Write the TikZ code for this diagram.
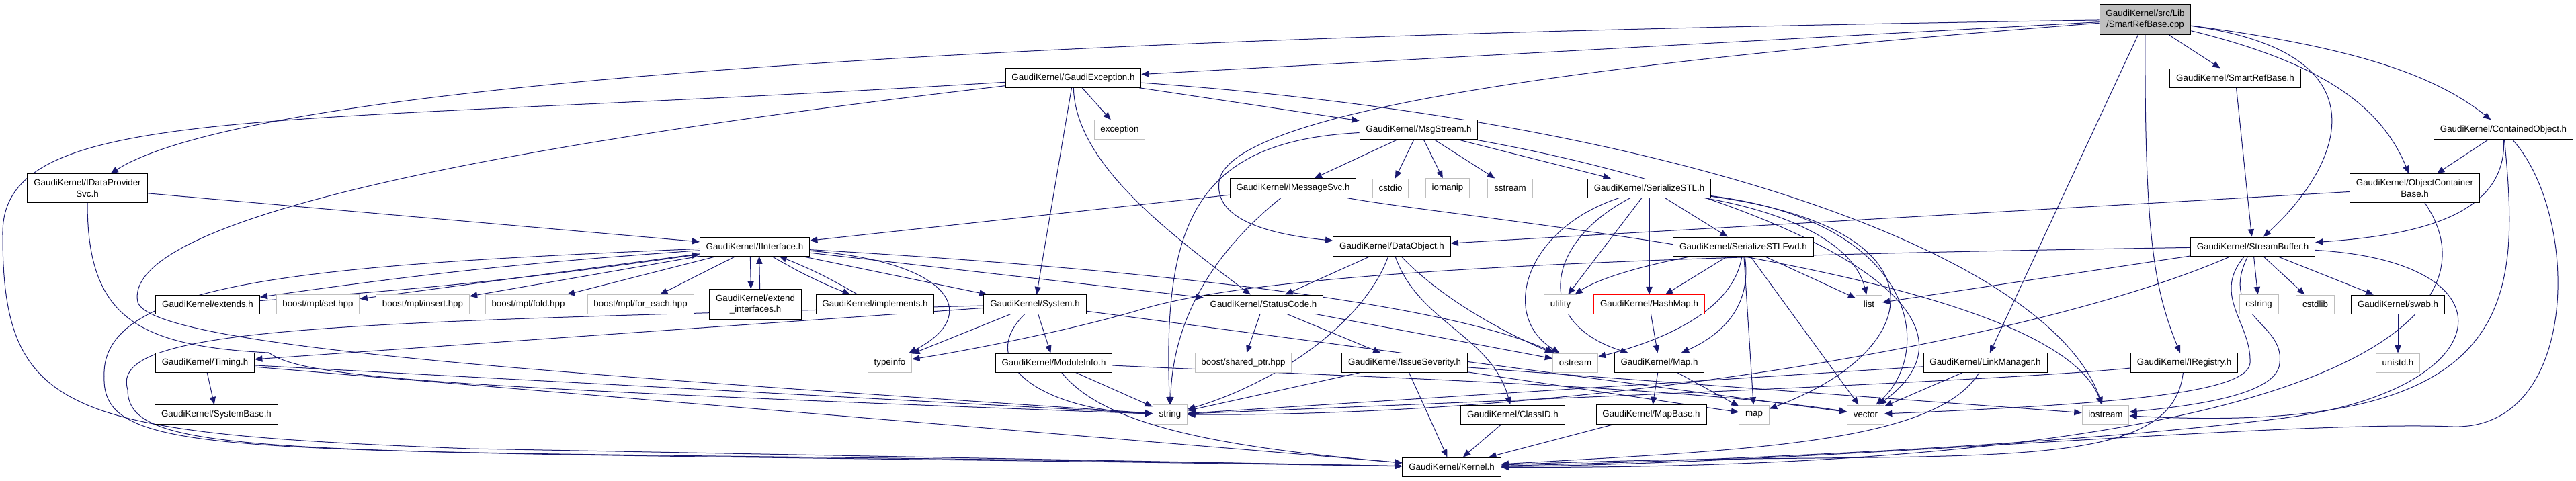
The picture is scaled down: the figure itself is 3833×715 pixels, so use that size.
\documentclass[tikz,border=0pt]{standalone}
\usepackage{fontspec}
\setmainfont{Liberation Sans}
\usetikzlibrary{arrows.meta,backgrounds}
\definecolor{edgeblue}{HTML}{191970}
\definecolor{stdgray}{HTML}{BFBFBF}
\begin{document}
\begin{tikzpicture}[x=0.75pt, y=-0.75pt,
        filebox/.style={rectangle, draw=black, fill=white, line width=0.75pt, inner xsep=7pt, inner ysep=6pt, minimum height=21pt, minimum width=29pt, align=center, font=\fontsize{10}{12.5}\selectfont},
        stdbox/.style={filebox, draw=stdgray},
        redbox/.style={filebox, draw=red},
        rootbox/.style={filebox, fill=stdgray},
        dep/.style={-{Triangle[length=8.5pt, width=7pt]}, draw=edgeblue, line width=0.75pt}]
        \useasboundingbox (0,0) rectangle (3833,715);
        \node [rootbox] (root) at (3192,29) {GaudiKernel/src/Lib\\/SmartRefBase.cpp};
        \node [filebox] (gexc) at (1597,116) {GaudiKernel/GaudiException.h};
        \node [filebox] (srbh) at (3326,116) {GaudiKernel/SmartRefBase.h};
        \node [filebox] (idp) at (130,280) {GaudiKernel/IDataProvider\\Svc.h};
        \node [filebox] (msg) at (2111,193) {GaudiKernel/MsgStream.h};
        \node [stdbox] (exc) at (1666,193) {exception};
        \node [filebox] (cobj) at (3725,193) {GaudiKernel/ContainedObject.h};
        \node [filebox] (imsg) at (1924,280) {GaudiKernel/IMessageSvc.h};
        \node [stdbox] (cstdio) at (2069,280) {cstdio};
        \node [stdbox] (iomanip) at (2154,280) {iomanip};
        \node [stdbox] (sstream) at (2247,280) {sstream};
        \node [filebox] (sstl) at (2454,280) {GaudiKernel/SerializeSTL.h};
        \node [filebox] (ocb) at (3593,280) {GaudiKernel/ObjectContainer\\Base.h};
        \node [filebox] (iint) at (1123,367) {GaudiKernel/IInterface.h};
        \node [filebox] (dobj) at (2071,367) {GaudiKernel/DataObject.h};
        \node [filebox] (fwd) at (2594,367) {GaudiKernel/SerializeSTLFwd.h};
        \node [filebox] (sbuf) at (3352,367) {GaudiKernel/StreamBuffer.h};
        \node [filebox] (extends) at (309,453) {GaudiKernel/extends.h};
        \node [stdbox] (mplset) at (473,453) {boost/mpl/set.hpp};
        \node [stdbox] (mplinsert) at (629,453) {boost/mpl/insert.hpp};
        \node [stdbox] (mplfold) at (786,453) {boost/mpl/fold.hpp};
        \node [stdbox] (mplforeach) at (953,453) {boost/mpl/for\_each.hpp};
        \node [filebox] (extif) at (1124,453) {GaudiKernel/extend\\\_interfaces.h};
        \node [filebox] (impl) at (1302,453) {GaudiKernel/implements.h};
        \node [filebox] (system) at (1540,453) {GaudiKernel/System.h};
        \node [filebox] (scode) at (1880,453) {GaudiKernel/StatusCode.h};
        \node [stdbox] (utility) at (2322,453) {utility};
        \node [redbox] (hashmap) at (2454,453) {GaudiKernel/HashMap.h};
        \node [stdbox] (list) at (2781,453) {list};
        \node [stdbox] (cstring) at (3361,453) {cstring};
        \node [stdbox] (cstdlib) at (3445,453) {cstdlib};
        \node [filebox] (swab) at (3568,453) {GaudiKernel/swab.h};
        \node [filebox] (timing) at (305,540) {GaudiKernel/Timing.h};
        \node [stdbox] (typeinfo) at (1324,540) {typeinfo};
        \node [filebox] (modinfo) at (1568,540) {GaudiKernel/ModuleInfo.h};
        \node [stdbox] (sharedptr) at (1850,540) {boost/shared\_ptr.hpp};
        \node [filebox] (issue) at (2090,540) {GaudiKernel/IssueSeverity.h};
        \node [stdbox] (ostream) at (2344,540) {ostream};
        \node [filebox] (maph) at (2469,540) {GaudiKernel/Map.h};
        \node [filebox] (linkm) at (2954,540) {GaudiKernel/LinkManager.h};
        \node [filebox] (ireg) at (3250,540) {GaudiKernel/IRegistry.h};
        \node [stdbox] (unistd) at (3568,540) {unistd.h};
        \node [filebox] (sysbase) at (322,617) {GaudiKernel/SystemBase.h};
        \node [stdbox] (string) at (1741,617) {string};
        \node [filebox] (classid) at (2251,617) {GaudiKernel/ClassID.h};
        \node [filebox] (mapbase) at (2457,617) {GaudiKernel/MapBase.h};
        \node [stdbox] (map) at (2610,617) {map};
        \node [stdbox] (vector) at (2776,617) {vector};
        \node [stdbox] (iostream) at (3133,617) {iostream};
        \node [filebox] (kernel) at (2160,695) {GaudiKernel/Kernel.h};
        \begin{scope}[on background layer]
        \draw [dep] (root) -- (gexc);
        \draw [dep] (root) .. controls (1700,50) and (400,110) .. (idp);
        \draw [dep] (root) .. controls (2400,90) and (1850,160) .. (1815,265) .. controls (1800,330) and (1900,350) .. (dobj);
        \draw [dep] (root) -- (srbh);
        \draw [dep] (root) -- (linkm);
        \draw [dep] (root) .. controls (3191,350) and (3205,430) .. (ireg);
        \draw [dep] (root) .. controls (3560,80) and (3480,250) .. (sbuf);
        \draw [dep] (root) .. controls (3440,90) and (3540,150) .. (ocb);
        \draw [dep] (root) .. controls (3500,70) and (3620,110) .. (cobj);
        \draw [dep] (srbh) -- (sbuf);
        \draw [dep] (gexc) .. controls (400,190) and (0,150) .. (4,350) .. controls (4,620) and (100,645) .. (700,668) -- (kernel);
        \draw [dep] (gexc) .. controls (700,220) and (180,330) .. (205,450) .. controls (230,520) and (900,560) .. (string);
        \draw [dep] (gexc) -- (system);
        \draw [dep] (gexc) .. controls (1600,240) and (1730,340) .. (scode);
        \draw [dep] (gexc) -- (exc);
        \draw [dep] (gexc) -- (msg);
        \draw [dep] (gexc) .. controls (2500,180) and (3050,380) .. (iostream);
        \draw [dep] (idp) -- (iint);
        \draw [dep] (idp) .. controls (130,470) and (200,515) .. (400,525) .. controls (450,560) and (600,575) .. (string);
        \draw [dep] (msg) -- (imsg);
        \draw [dep] (msg) -- (cstdio);
        \draw [dep] (msg) -- (iomanip);
        \draw [dep] (msg) -- (sstream);
        \draw [dep] (msg) -- (sstl);
        \draw [dep] (msg) .. controls (1780,210) and (1730,330) .. (string);
        \draw [dep] (msg) .. controls (2600,280) and (3000,450) .. (vector);
        \draw [dep] (imsg) -- (iint);
        \draw [dep] (imsg) .. controls (1800,380) and (1745,480) .. (string);
        \draw [dep] (imsg) .. controls (2200,330) and (3050,400) .. (iostream);
        \draw [dep] (sstl) -- (fwd);
        \draw [dep] (sstl) -- (hashmap);
        \draw [dep] (sstl) -- (utility);
        \draw [dep] (sstl) .. controls (2270,340) and (2230,470) .. (ostream);
        \draw [dep] (sstl) .. controls (2300,360) and (2280,480) .. (maph);
        \draw [dep] (sstl) .. controls (2680,320) and (2760,370) .. (list);
        \draw [dep] (sstl) .. controls (2850,330) and (2880,520) .. (vector);
        \draw [dep] (sstl) .. controls (2900,340) and (2870,520) .. (map);
        \draw [dep] (fwd) .. controls (2420,400) and (2370,420) .. (utility);
        \draw [dep] (fwd) -- (hashmap);
        \draw [dep] (fwd) .. controls (2580,460) and (2480,505) .. (ostream);
        \draw [dep] (fwd) .. controls (2605,440) and (2580,490) .. (maph);
        \draw [dep] (fwd) -- (map);
        \draw [dep] (fwd) -- (vector);
        \draw [dep] (fwd) -- (list);
        \draw [dep] (hashmap) -- (maph);
        \draw [dep] (maph) -- (mapbase);
        \draw [dep] (maph) -- (map);
        \draw [dep] (mapbase) -- (kernel);
        \draw [dep] (classid) -- (kernel);
        \draw [dep] (dobj) -- (scode);
        \draw [dep] (dobj) .. controls (2030,480) and (1900,570) .. (string);
        \draw [dep] (dobj) .. controls (2110,480) and (2220,500) .. (classid);
        \draw [dep] (dobj) .. controls (2150,450) and (2250,500) .. (ostream);
        \draw [dep] (ocb) -- (dobj);
        \draw [dep] (ocb) .. controls (3730,480) and (3450,700) .. (kernel);
        \draw [dep] (cobj) -- (ocb);
        \draw [dep] (cobj) .. controls (3730,320) and (3600,350) .. (sbuf);
        \draw [dep] (cobj) .. controls (3750,450) and (3750,650) .. (iostream);
        \draw [dep] (cobj) .. controls (3840,320) and (3840,640) .. (3650,635) .. controls (3400,625) and (2700,690) .. (kernel);
        \draw [dep] (sbuf) .. controls (2500,380) and (1900,400) .. (1700,460) .. controls (1600,490) and (1450,520) .. (typeinfo);
        \draw [dep] (sbuf) -- (list);
        \draw [dep] (sbuf) .. controls (3050,500) and (2400,620) .. (string);
        \draw [dep] (sbuf) .. controls (3290,440) and (3350,480) .. (3348,540) .. controls (3345,580) and (3200,600) .. (vector);
        \draw [dep] (sbuf) .. controls (3300,470) and (3400,480) .. (3392,540) .. controls (3390,590) and (3250,605) .. (iostream);
        \draw [dep] (sbuf) -- (cstring);
        \draw [dep] (sbuf) -- (cstdlib);
        \draw [dep] (sbuf) -- (swab);
        \draw [dep] (sbuf) .. controls (3750,390) and (3720,580) .. (3400,622) .. controls (3100,660) and (2600,685) .. (kernel);
        \draw [dep] (swab) -- (unistd);
        \draw [dep] (linkm) -- (string);
        \draw [dep] (linkm) -- (vector);
        \draw [dep] (linkm) .. controls (2880,660) and (2600,670) .. (kernel);
        \draw [dep] (ireg) .. controls (3000,565) and (2400,590) .. (string);
        \draw [dep] (ireg) .. controls (3230,720) and (2900,665) .. (kernel);
        \draw [dep] (iint) .. controls (450,395) and (150,420) .. (155,560) .. controls (150,700) and (400,662) .. (kernel);
        \draw [dep] (iint) to [bend right=2] (extends);
        \draw [dep] (extends) to [bend right=2] (iint);
        \draw [dep] (iint) -- (mplset);
        \draw [dep] (iint) -- (mplinsert);
        \draw [dep] (iint) -- (mplfold);
        \draw [dep] (iint) -- (mplforeach);
        \draw [dep] ([xshift=-5pt]iint.south) -- ([xshift=-5pt]extif.north);
        \draw [dep] ([xshift=5pt]extif.north) -- ([xshift=5pt]iint.south);
        \draw [dep] (iint) to [bend right=4] (impl);
        \draw [dep] (impl) to [bend right=4] (iint);
        \draw [dep] (iint) -- (system);
        \draw [dep] (iint) -- (scode);
        \draw [dep] (iint) .. controls (1420,390) and (1460,470) .. (typeinfo);
        \draw [dep] (iint) .. controls (1700,400) and (2150,450) .. (ostream);
        \draw [dep] (system) -- (timing);
        \draw [dep] (system) -- (typeinfo);
        \draw [dep] (system) .. controls (500,480) and (160,485) .. (190,580) .. controls (190,690) and (450,668) .. (kernel);
        \draw [dep] (system) -- (modinfo);
        \draw [dep] (system) .. controls (1450,540) and (1550,610) .. (string);
        \draw [dep] (system) -- (vector);
        \draw [dep] (scode) -- (sharedptr);
        \draw [dep] (scode) -- (issue);
        \draw [dep] (scode) -- (ostream);
        \draw [dep] (timing) -- (sysbase);
        \draw [dep] (timing) -- (kernel);
        \draw [dep] (timing) -- (string);
        \draw [dep] (modinfo) -- (string);
        \draw [dep] (modinfo) .. controls (1640,630) and (1800,665) .. (kernel);
        \draw [dep] (modinfo) .. controls (2000,560) and (2500,575) .. (vector);
        \draw [dep] (issue) -- (string);
        \draw [dep] (issue) -- (kernel);
        \draw [dep] (issue) -- (map);
        \draw [dep] (issue) -- (iostream);
        \end{scope}
    \end{tikzpicture}
\end{document}
